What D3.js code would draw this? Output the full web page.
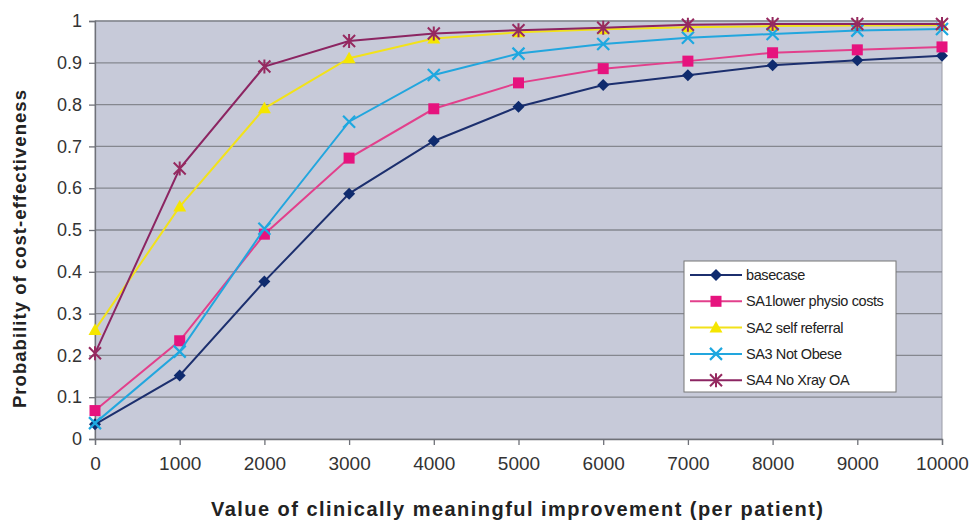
<!DOCTYPE html>
<html><head><meta charset="utf-8">
<script src="https://cdn.jsdelivr.net/npm/d3@7"></script>
<style>
html,body{margin:0;padding:0;background:#fff;}
svg{display:block;font-family:"Liberation Sans",Arial,sans-serif;}
</style></head>
<body><svg id="chart" width="971" height="524"></svg>
<script>
const xValues = [0,1000,2000,3000,4000,5000,6000,7000,8000,9000,10000];
const yTicks = [0,0.1,0.2,0.3,0.4,0.5,0.6,0.7,0.8,0.9,1];
const yTickLabels = ["0","0.1","0.2","0.3","0.4","0.5","0.6","0.7","0.8","0.9","1"];
const seriesNames = ["basecase","SA1lower physio costs","SA2 self referral","SA3 Not Obese","SA4 No Xray OA"];
const basecase = [0.035,0.152,0.377,0.587,0.713,0.795,0.847,0.870,0.894,0.906,0.917];
const sa1 = [0.068,0.235,0.490,0.672,0.790,0.852,0.886,0.904,0.924,0.931,0.938];
const sa2 = [0.261,0.556,0.791,0.911,0.958,0.973,0.980,0.985,0.988,0.989,0.990];
const sa3 = [0.038,0.209,0.503,0.759,0.871,0.922,0.945,0.960,0.969,0.977,0.981];
const sa4 = [0.205,0.647,0.891,0.952,0.970,0.978,0.984,0.991,0.993,0.993,0.993];

const seriesValues = [basecase, sa1, sa2, sa3, sa4];
const lineColors = ["#1c2f6e","#e2408c","#f2e21a","#22a6de","#8c2562"];
const markerColors = ["#0f2b6e","#e6137e","#f5e600","#1ea8e0","#962a60"];
const markerTypes = ["diamond","square","triangle","x","star"];

const svg = d3.select("#chart");
const L = 95, R = 942, T = 21, B = 439;
const x = d3.scaleLinear().domain([0,10000]).range([L,R]);
const y = d3.scaleLinear().domain([0,1]).range([B,T]);

// plot background
svg.append("rect").attr("x",L).attr("y",T).attr("width",R-L).attr("height",B-T)
  .attr("fill","#c7cad9").attr("stroke","#9a9ca6").attr("stroke-width",1);

// gridlines
svg.append("g").selectAll("line").data(yTicks.filter(d=>d>0)).join("line")
  .attr("x1",L).attr("x2",R).attr("y1",d=>y(d)).attr("y2",d=>y(d))
  .attr("stroke","#85878f").attr("stroke-width",1.3);

// y axis
const yAxis = d3.axisLeft(y).tickValues(yTicks).tickFormat((d,i)=>yTickLabels[i]).tickSize(6).tickPadding(7);
const gy = svg.append("g").attr("transform",`translate(${L},0)`).call(yAxis);
gy.select(".domain").attr("stroke","#6f7178").attr("stroke-width",1.3);
gy.selectAll(".tick line").attr("stroke","#6f7178").attr("stroke-width",1.3);
gy.selectAll("text").attr("font-size","18px").attr("fill","#333").attr("font-family","'Liberation Sans',Arial,sans-serif");

// x axis
const xAxis = d3.axisBottom(x).tickValues(xValues).tickFormat(d3.format("d")).tickSize(6).tickPadding(12);
const gx = svg.append("g").attr("transform",`translate(0,${B})`).call(xAxis);
gx.select(".domain").attr("stroke","#6f7178").attr("stroke-width",1.3);
gx.selectAll(".tick line").attr("stroke","#6f7178").attr("stroke-width",1.3);
gx.selectAll("text").attr("font-size","19px").attr("fill","#333").attr("font-family","'Liberation Sans',Arial,sans-serif");

// axis titles
svg.append("text").attr("x",517).attr("y",516).attr("text-anchor","middle")
  .attr("font-size","20px").attr("font-weight","bold").attr("fill","#222")
  .attr("textLength",612).attr("lengthAdjust","spacing")
  .text("Value of clinically meaningful improvement (per patient)");
svg.append("text").attr("transform",`translate(26,249) rotate(-90)`).attr("text-anchor","middle")
  .attr("font-size","18.5px").attr("font-weight","bold").attr("fill","#222")
  .attr("textLength",318).attr("lengthAdjust","spacing")
  .text("Probability of cost-effectiveness");

// marker drawing
function drawMarker(g, type, color, cx, cy){
  const m = g.append("g").attr("transform",`translate(${cx},${cy})`);
  if(type==="diamond"){
    m.append("path").attr("d","M0,-6L6,0L0,6L-6,0Z").attr("fill",color);
  } else if(type==="square"){
    m.append("rect").attr("x",-5.5).attr("y",-5.5).attr("width",11).attr("height",11).attr("fill",color);
  } else if(type==="triangle"){
    m.append("path").attr("d","M0,-6.5L6.5,5L-6.5,5Z").attr("fill",color);
  } else if(type==="x"){
    m.append("path").attr("d","M-6,-6L6,6M-6,6L6,-6").attr("stroke",color).attr("stroke-width",2.2);
  } else if(type==="star"){
    m.append("path").attr("d","M-6,-6L6,6M-6,6L6,-6M0,-7L0,7").attr("stroke",color).attr("stroke-width",2);
  }
}

const line = d3.line().x((d,i)=>x(xValues[i])).y(d=>y(d));
seriesValues.forEach((vals,si)=>{
  const g = svg.append("g");
  g.append("path").datum(vals).attr("d",line).attr("fill","none")
    .attr("stroke",lineColors[si]).attr("stroke-width",2);
  vals.forEach((v,i)=>drawMarker(g, markerTypes[si], markerColors[si], x(xValues[i]), y(v)));
});

// legend
const lg = svg.append("g");
lg.append("rect").attr("x",684).attr("y",261).attr("width",212).attr("height",131)
  .attr("fill","#fff").attr("stroke","#777").attr("stroke-width",1);
seriesNames.forEach((name,i)=>{
  const ly = 275 + i*26.3;
  lg.append("line").attr("x1",690).attr("x2",742).attr("y1",ly).attr("y2",ly)
    .attr("stroke",lineColors[i]).attr("stroke-width",2);
  drawMarker(lg, markerTypes[i], markerColors[i], 716, ly);
  lg.append("text").attr("x",746).attr("y",ly+5).attr("font-size","14.5px").attr("fill","#222")
    .attr("letter-spacing","-0.4px").text(name);
});
</script></body></html>
